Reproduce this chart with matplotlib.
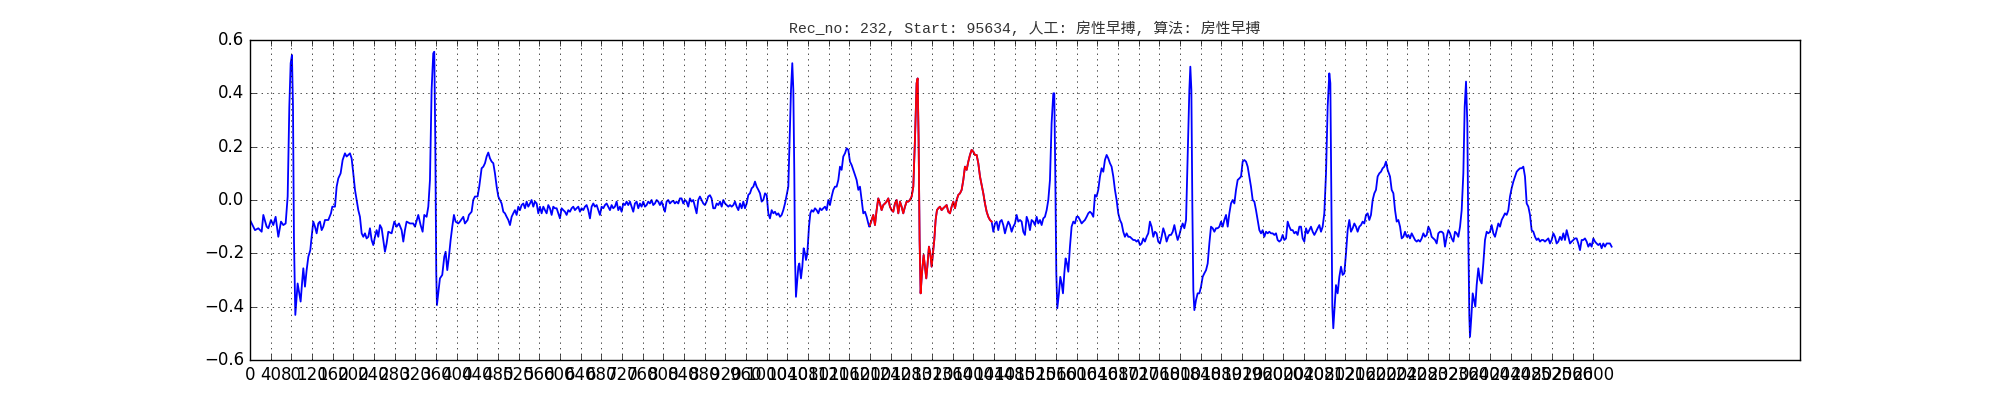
import matplotlib
matplotlib.use('Agg')
import matplotlib.pyplot as plt
import numpy as np

TITLE = "Rec_no: 232, Start: 95634, 人工: 房性早搏, 算法: 房性早搏"
X_TICKS = list(range(0, 2601, 40))
Y_TICKS = [-0.6, -0.4, -0.2, 0.0, 0.2, 0.4, 0.6]
RED_FROM = 1199.0
RED_TO = 1436.0

# beats 1-2 (sample index, amplitude)
seg_a = [(0, -0.075), (9.7, -0.113), (16.1, -0.106), (22.6, -0.119), (25.8, -0.056), (32.2, -0.1),
         (35.5, -0.106), (40.6, -0.075), (45.1, -0.094), (49.6, -0.063), (54.8, -0.138), (60.0, -0.081),
         (64.5, -0.094), (69.0, -0.088), (72.9, 0.013), (76.1, 0.35), (78.7, 0.513), (81.2, 0.544),
         (83.2, 0.35), (85.1, -0.15), (87.7, -0.431), (90.3, -0.363), (92.2, -0.313), (95.4, -0.35),
         (98.0, -0.381), (101.2, -0.3), (103.2, -0.256), (106.4, -0.325), (109.6, -0.263), (112.9, -0.213),
         (116.7, -0.188), (119.3, -0.138), (122.5, -0.081), (125.8, -0.1), (129.0, -0.125), (132.2, -0.088),
         (135.4, -0.081), (138.7, -0.113), (141.9, -0.1), (145.1, -0.075), (151.6, -0.075), (156.7, -0.05),
         (159.3, -0.025), (164.5, -0.025), (167.7, 0.05), (170.9, 0.081), (175.4, 0.1), (179.3, 0.15),
         (183.8, 0.175), (187.0, 0.163), (190.3, 0.169), (193.5, 0.175), (196.7, 0.156), (199.9, 0.1),
         (203.2, 0.038), (206.4, 0.0), (209.6, -0.038), (212.8, -0.063), (216.1, -0.125), (219.3, -0.138),
         (222.5, -0.125), (225.7, -0.144), (229.0, -0.138), (232.2, -0.106), (235.4, -0.15), (238.6, -0.169),
         (241.9, -0.138), (245.1, -0.113), (248.3, -0.138), (251.5, -0.094), (254.8, -0.106), (258.0, -0.15),
         (261.2, -0.194), (264.4, -0.163), (267.7, -0.119), (274.1, -0.125), (279.3, -0.081), (283.8, -0.1),
         (288.3, -0.088), (293.5, -0.113), (296.7, -0.156), (299.9, -0.113), (303.1, -0.081), (309.6, -0.088),
         (316.0, -0.088), (319.3, -0.1), (325.7, -0.056), (330.2, -0.094), (334.1, -0.119), (337.3, -0.056),
         (341.8, -0.063), (345.1, -0.025), (348.3, 0.075), (351.5, 0.413), (354.7, 0.55), (356.7, 0.556),
         (358.6, 0.225), (360.5, -0.275), (361.8, -0.394), (364.4, -0.35), (367.6, -0.294), (372.1, -0.281),
         (376.0, -0.213), (378.6, -0.194), (381.8, -0.263), (385.0, -0.213), (388.3, -0.15), (391.5, -0.1),
         (394.7, -0.056), (397.9, -0.081), (403.1, -0.088), (406.3, -0.081), (412.8, -0.063), (416.0, -0.088),
         (421.2, -0.075), (423.7, -0.056), (428.9, -0.044), (432.1, 0.0), (435.4, 0.013), (440.5, 0.013),
         (443.7, 0.05), (448.3, 0.119)]

# T wave of beat 2 and long baseline
seg_b = [(451.6, 0.125), (454.8, 0.138), (458.0, 0.163), (461.2, 0.178), (464.5, 0.156), (467.7, 0.144),
         (470.9, 0.138), (474.1, 0.1), (477.4, 0.05), (480.6, 0.013), (483.8, 0.0), (487.0, -0.013),
         (490.3, -0.044), (493.5, -0.05), (496.7, -0.063), (500.0, -0.075), (503.2, -0.094), (506.4, -0.063),
         (509.6, -0.05), (512.8, -0.038), (516.0, -0.056), (519.3, -0.025), (522.5, -0.038), (525.7, -0.019),
         (529.0, -0.013), (532.2, -0.031), (535.4, -0.006), (538.6, -0.025), (541.9, -0.013), (545.0, 0.0),
         (548.3, -0.025), (551.5, -0.006), (554.8, -0.013), (558.0, -0.05), (561.2, -0.025), (564.4, -0.05),
         (567.7, -0.025), (570.9, -0.038), (574.1, -0.05), (577.3, -0.019), (580.5, -0.031), (583.8, -0.056),
         (587.0, -0.025), (590.2, -0.031), (593.5, -0.031), (596.7, -0.05), (599.9, -0.069), (603.1, -0.031),
         (606.4, -0.038), (609.6, -0.044), (612.8, -0.056), (616.0, -0.038), (619.3, -0.044), (622.5, -0.031),
         (625.7, -0.025), (628.9, -0.038), (632.2, -0.031), (635.4, -0.025), (638.6, -0.044), (641.8, -0.031),
         (645.1, -0.038), (648.3, -0.025), (651.5, -0.019), (654.7, -0.038), (658.0, -0.069), (661.2, -0.025),
         (664.4, -0.013), (667.6, -0.025), (670.9, -0.019), (674.1, -0.038), (677.3, -0.056), (680.5, -0.025),
         (683.8, -0.031), (687.0, -0.019), (690.2, -0.013), (693.4, -0.025), (696.7, -0.038), (699.9, -0.019),
         (703.1, -0.031), (706.3, -0.025), (709.6, -0.006), (712.8, -0.038), (716.0, -0.025), (719.2, -0.044),
         (722.5, -0.013), (725.7, -0.019), (728.9, -0.006), (732.1, -0.019), (735.4, -0.006), (738.6, -0.025),
         (741.8, -0.044), (745.0, -0.013), (748.3, -0.006), (751.5, -0.031), (754.7, -0.013), (757.9, -0.025),
         (761.2, -0.006), (764.4, -0.025), (767.6, -0.019), (770.8, -0.006), (774.0, -0.013), (777.3, 0.0),
         (780.5, -0.019), (783.7, -0.013), (787.0, 0.0), (790.2, -0.006), (793.4, -0.019), (796.6, -0.006),
         (799.9, -0.025), (803.1, -0.044), (806.3, -0.006), (809.5, 0.0), (812.8, -0.013), (816.0, -0.006),
         (819.2, -0.003), (822.4, -0.013), (825.7, -0.006), (828.9, -0.013), (832.1, 0.006), (835.3, 0.006),
         (838.6, -0.013), (841.8, 0.0), (845.0, -0.006), (848.2, -0.025), (851.5, 0.006), (854.7, -0.006),
         (857.9, 0.0), (861.1, -0.025), (864.4, -0.05), (867.6, 0.0), (870.8, 0.013), (874.0, 0.0),
         (877.3, -0.013), (880.5, -0.019), (883.7, -0.006), (886.9, 0.013), (890.2, 0.018), (893.4, 0.006),
         (896.6, -0.031)]

# beat 3 and premature beat 4
seg_c = [(900.0, -0.031), (903.2, -0.013), (906.5, -0.019), (909.7, -0.006), (912.9, -0.025), (916.1, 0.0),
         (919.4, -0.013), (922.6, -0.019), (925.8, -0.025), (929.0, -0.019), (932.3, -0.025), (935.5, -0.019),
         (938.7, -0.006), (941.9, -0.025), (945.2, -0.038), (948.4, -0.013), (951.6, -0.031), (954.8, -0.006),
         (958.0, -0.031), (961.3, -0.013), (964.5, 0.019), (967.7, 0.025), (971.0, 0.044), (974.2, 0.05),
         (977.4, 0.069), (980.6, 0.05), (983.9, 0.038), (987.1, 0.025), (990.3, -0.006), (993.5, 0.0),
         (996.8, 0.025), (1000.0, 0.019), (1003.2, -0.05), (1006.4, -0.069), (1009.7, -0.038), (1012.9, -0.05),
         (1016.1, -0.044), (1019.3, -0.056), (1022.6, -0.05), (1025.8, -0.063), (1029.0, -0.056), (1032.2, -0.038),
         (1035.5, -0.013), (1038.7, 0.019), (1041.9, 0.05), (1044.5, 0.225), (1047.1, 0.413), (1049.6, 0.513),
         (1051.6, 0.413), (1053.5, 0.1), (1054.8, -0.213), (1056.7, -0.363), (1058.7, -0.313), (1061.3, -0.25),
         (1063.2, -0.238), (1066.4, -0.294), (1069.0, -0.25), (1071.6, -0.181), (1074.2, -0.2), (1076.1, -0.225),
         (1078.7, -0.2), (1081.9, -0.1), (1084.5, -0.05), (1087.1, -0.038), (1090.3, -0.044), (1093.5, -0.031),
         (1096.7, -0.038), (1100.0, -0.05), (1103.2, -0.031), (1106.4, -0.038), (1109.6, -0.031), (1112.9, -0.025),
         (1116.1, -0.038), (1119.3, 0.0), (1122.5, -0.019), (1125.8, 0.013), (1129.0, 0.038), (1132.2, 0.05),
         (1135.4, 0.05), (1138.7, 0.075), (1141.9, 0.125), (1145.1, 0.113), (1148.3, 0.163), (1151.6, 0.175),
         (1154.8, 0.194), (1158.0, 0.188), (1161.2, 0.144), (1164.5, 0.131), (1167.7, 0.113), (1170.9, 0.094),
         (1174.1, 0.075), (1177.4, 0.038), (1180.6, 0.05), (1183.8, 0.0), (1187.0, -0.05), (1190.3, -0.044),
         (1193.5, -0.063), (1196.7, -0.088), (1198.6, -0.1), (1199.9, -0.094), (1203.2, -0.075), (1206.4, -0.056),
         (1209.6, -0.094), (1212.8, -0.038), (1216.0, 0.006), (1219.3, -0.013), (1222.5, -0.038), (1225.7, -0.019),
         (1229.0, -0.013), (1232.2, -0.006), (1235.4, 0.006), (1238.6, -0.025), (1241.9, -0.038), (1245.0, -0.044),
         (1248.3, -0.013), (1251.5, 0.0), (1254.8, -0.05), (1258.0, -0.006), (1261.2, -0.025), (1264.4, -0.05),
         (1267.7, -0.025), (1270.9, -0.006), (1274.1, -0.006), (1277.3, 0.0), (1280.6, 0.013), (1283.8, 0.05),
         (1287.0, 0.225), (1290.2, 0.438), (1292.2, 0.456), (1294.1, 0.225), (1296.0, -0.15), (1298.0, -0.35),
         (1300.5, -0.275), (1303.8, -0.206), (1306.4, -0.25), (1308.9, -0.294), (1311.5, -0.238), (1314.1, -0.175),
         (1316.7, -0.2), (1319.3, -0.25), (1321.8, -0.2), (1324.4, -0.15), (1327.0, -0.075), (1329.6, -0.038),
         (1332.2, -0.031), (1335.4, -0.025), (1338.6, -0.038), (1341.8, -0.031), (1345.1, -0.025), (1348.3, -0.019),
         (1351.5, -0.044)]

# T wave of beat 4 and beat 5
seg_d = [(1354.8, -0.05), (1358.0, -0.025), (1361.3, -0.006), (1364.5, -0.031), (1367.7, 0.0), (1370.9, 0.019),
         (1374.2, 0.025), (1377.4, 0.038), (1380.6, 0.075), (1383.8, 0.125), (1387.1, 0.113), (1390.3, 0.144),
         (1393.5, 0.169), (1396.7, 0.188), (1400.0, 0.181), (1403.2, 0.169), (1406.4, 0.169), (1409.6, 0.138),
         (1412.9, 0.088), (1416.1, 0.056), (1419.3, 0.025), (1422.5, -0.013), (1425.8, -0.044), (1429.0, -0.063),
         (1432.2, -0.075), (1435.4, -0.081), (1438.7, -0.119), (1441.9, -0.088), (1445.1, -0.081), (1448.3, -0.113),
         (1451.6, -0.081), (1454.8, -0.075), (1458.0, -0.094), (1461.2, -0.125), (1464.5, -0.1), (1467.7, -0.081),
         (1470.9, -0.094), (1474.1, -0.119), (1477.4, -0.1), (1480.6, -0.088), (1483.8, -0.056), (1487.0, -0.081),
         (1490.3, -0.075), (1493.5, -0.081), (1496.7, -0.119), (1499.9, -0.131), (1503.2, -0.063), (1506.4, -0.081),
         (1509.6, -0.113), (1512.8, -0.075), (1516.1, -0.081), (1519.3, -0.094), (1522.5, -0.063), (1525.7, -0.088),
         (1529.0, -0.075), (1532.2, -0.094), (1535.4, -0.069), (1538.6, -0.063), (1541.9, -0.038), (1545.1, 0.0),
         (1548.3, 0.075), (1551.5, 0.288), (1554.8, 0.4), (1556.7, 0.4), (1558.6, 0.1), (1560.6, -0.275),
         (1562.5, -0.406), (1565.7, -0.35), (1568.3, -0.288), (1570.9, -0.313), (1573.5, -0.35), (1576.1, -0.275),
         (1578.6, -0.219), (1581.2, -0.238), (1583.8, -0.269), (1587.0, -0.175), (1590.2, -0.1), (1593.5, -0.081),
         (1596.7, -0.088), (1599.9, -0.063), (1603.1, -0.063), (1606.4, -0.075), (1609.6, -0.088), (1612.8, -0.081),
         (1616.0, -0.075), (1619.3, -0.063), (1622.5, -0.05), (1625.7, -0.044), (1628.9, -0.05), (1632.2, -0.063),
         (1635.4, 0.019), (1638.6, 0.013), (1641.8, 0.038), (1645.1, 0.088), (1648.3, 0.119), (1651.5, 0.106),
         (1654.7, 0.15), (1658.0, 0.169), (1661.2, 0.156), (1664.4, 0.138), (1667.6, 0.125), (1670.9, 0.088),
         (1674.1, 0.038), (1677.3, 0.0), (1680.5, -0.05), (1683.8, -0.075), (1687.0, -0.088), (1690.2, -0.119),
         (1693.4, -0.138), (1696.7, -0.125), (1699.9, -0.138), (1703.1, -0.138), (1706.3, -0.144), (1709.6, -0.15),
         (1712.8, -0.15), (1716.0, -0.156), (1719.2, -0.15), (1722.5, -0.169), (1725.7, -0.163), (1728.9, -0.144),
         (1732.1, -0.156), (1735.4, -0.138), (1738.6, -0.125), (1741.8, -0.081), (1745.0, -0.1), (1748.3, -0.138),
         (1751.5, -0.119), (1754.7, -0.125), (1757.9, -0.156), (1761.2, -0.163), (1764.4, -0.138), (1767.6, -0.106),
         (1770.8, -0.125), (1774.1, -0.156), (1777.3, -0.138)]

# beats 6-7
seg_e = [(1779.4, -0.131), (1782.6, -0.131), (1785.9, -0.119), (1789.1, -0.094), (1792.3, -0.125), (1795.5, -0.15),
         (1798.8, -0.131), (1802.0, -0.106), (1805.2, -0.088), (1808.4, -0.106), (1811.7, -0.075), (1814.9, 0.163),
         (1818.1, 0.413), (1820.0, 0.5), (1822.0, 0.413), (1823.9, -0.025), (1825.8, -0.338), (1827.8, -0.413),
         (1831.0, -0.375), (1834.2, -0.35), (1837.5, -0.35), (1840.7, -0.325), (1843.9, -0.288), (1847.1, -0.275),
         (1850.4, -0.263), (1853.6, -0.238), (1856.8, -0.163), (1860.0, -0.1), (1863.3, -0.106), (1866.5, -0.119),
         (1869.7, -0.106), (1872.9, -0.106), (1876.2, -0.1), (1879.4, -0.081), (1882.6, -0.1), (1885.8, -0.075),
         (1889.1, -0.056), (1892.3, -0.1), (1895.5, -0.05), (1898.7, -0.013), (1902.0, 0.0), (1905.2, -0.013),
         (1908.4, 0.038), (1911.6, 0.075), (1914.9, 0.081), (1918.1, 0.088), (1921.3, 0.144), (1924.5, 0.15),
         (1927.8, 0.144), (1931.0, 0.125), (1934.2, 0.088), (1937.4, 0.05), (1940.7, 0.0), (1943.9, -0.006),
         (1947.1, -0.038), (1950.3, -0.075), (1953.6, -0.113), (1956.8, -0.125), (1960.0, -0.113), (1963.2, -0.138),
         (1966.5, -0.119), (1969.7, -0.125), (1972.9, -0.119), (1976.1, -0.125), (1979.4, -0.125), (1982.6, -0.131),
         (1985.8, -0.125), (1989.0, -0.15), (1992.3, -0.156), (1995.5, -0.15), (1998.7, -0.131), (2001.9, -0.15),
         (2005.2, -0.144), (2008.4, -0.081), (2011.6, -0.1), (2014.8, -0.113), (2018.1, -0.113), (2021.3, -0.125),
         (2024.5, -0.119), (2027.7, -0.131), (2031.0, -0.1), (2034.2, -0.1), (2037.4, -0.144), (2040.6, -0.156),
         (2043.9, -0.106), (2047.1, -0.125), (2050.3, -0.113), (2053.5, -0.1), (2056.8, -0.119), (2060.0, -0.131),
         (2063.2, -0.119), (2066.4, -0.106), (2069.7, -0.094), (2072.9, -0.119), (2076.1, -0.1), (2079.3, -0.05),
         (2082.6, 0.1), (2085.8, 0.35), (2089.0, 0.475), (2091.0, 0.438), (2092.9, 0.038), (2094.8, -0.4),
         (2096.7, -0.481), (2099.3, -0.4), (2101.9, -0.319), (2105.1, -0.35), (2108.4, -0.288), (2111.6, -0.25),
         (2114.8, -0.281), (2118.0, -0.275), (2121.3, -0.2), (2124.5, -0.113), (2127.7, -0.075), (2130.9, -0.119),
         (2134.2, -0.106), (2137.4, -0.088), (2140.6, -0.1), (2143.8, -0.119), (2147.1, -0.1), (2150.3, -0.094),
         (2153.5, -0.081), (2156.7, -0.088), (2160.0, -0.056), (2163.2, -0.05), (2166.4, -0.075), (2169.6, -0.056),
         (2172.9, 0.0), (2176.1, 0.025), (2179.3, 0.038), (2182.5, 0.088), (2185.8, 0.1), (2189.0, 0.106),
         (2192.2, 0.119), (2195.4, 0.125), (2198.7, 0.144), (2201.9, 0.113)]

# beat 8 and tail
seg_f = [(2206.5, 0.088), (2209.7, 0.038), (2213.0, 0.025), (2216.2, -0.038), (2219.4, -0.081), (2222.6, -0.075),
         (2225.9, -0.1), (2229.1, -0.144), (2232.3, -0.138), (2235.5, -0.119), (2238.8, -0.138), (2242.0, -0.131),
         (2245.2, -0.144), (2248.4, -0.125), (2251.7, -0.138), (2254.9, -0.15), (2258.1, -0.156), (2261.3, -0.15),
         (2264.6, -0.156), (2267.8, -0.144), (2271.0, -0.125), (2274.2, -0.138), (2277.5, -0.131), (2280.7, -0.1),
         (2283.9, -0.113), (2287.1, -0.138), (2290.4, -0.144), (2293.6, -0.15), (2296.8, -0.163), (2300.0, -0.125),
         (2303.3, -0.119), (2306.5, -0.119), (2309.7, -0.125), (2312.9, -0.175), (2316.2, -0.138), (2319.4, -0.113),
         (2322.6, -0.125), (2325.8, -0.144), (2329.1, -0.156), (2332.3, -0.119), (2335.5, -0.125), (2338.7, -0.138),
         (2342.0, -0.1), (2345.2, -0.038), (2348.4, 0.1), (2351.0, 0.35), (2353.6, 0.444), (2356.1, 0.288),
         (2358.1, -0.15), (2360.0, -0.438), (2361.3, -0.513), (2363.9, -0.438), (2366.5, -0.35), (2369.1, -0.375),
         (2371.6, -0.4), (2374.2, -0.319), (2377.4, -0.256), (2380.7, -0.3), (2383.9, -0.313), (2387.1, -0.238),
         (2390.3, -0.15), (2393.6, -0.119), (2396.8, -0.125), (2400.0, -0.119), (2403.2, -0.094), (2406.5, -0.125),
         (2409.7, -0.138), (2412.9, -0.113), (2416.1, -0.088), (2419.4, -0.1), (2422.6, -0.075), (2425.8, -0.063),
         (2429.0, -0.05), (2432.3, -0.056), (2435.5, -0.038), (2438.7, 0.013), (2441.9, 0.044), (2445.2, 0.069),
         (2448.4, 0.088), (2451.6, 0.106), (2454.8, 0.113), (2458.1, 0.119), (2461.3, 0.119), (2464.5, 0.125),
         (2467.7, 0.088), (2471.0, -0.013), (2474.2, -0.025), (2477.4, -0.056), (2480.6, -0.113), (2483.9, -0.119),
         (2487.1, -0.138), (2490.3, -0.15), (2493.5, -0.144), (2496.8, -0.156), (2500.0, -0.15), (2503.2, -0.15),
         (2506.4, -0.156), (2509.7, -0.15), (2512.9, -0.144), (2516.1, -0.163), (2519.3, -0.15), (2522.6, -0.125),
         (2525.8, -0.138), (2529.0, -0.163), (2532.2, -0.156), (2535.5, -0.138), (2538.7, -0.15), (2541.9, -0.125),
         (2545.1, -0.15), (2548.4, -0.113), (2551.6, -0.138), (2554.8, -0.163), (2558.0, -0.156), (2561.3, -0.15),
         (2564.5, -0.144), (2567.7, -0.144), (2570.9, -0.163), (2574.2, -0.188), (2577.4, -0.15), (2580.6, -0.15),
         (2583.8, -0.144), (2587.1, -0.156), (2590.3, -0.175), (2593.5, -0.163), (2596.7, -0.175), (2600.0, -0.144),
         (2603.2, -0.156), (2606.4, -0.163), (2609.6, -0.169), (2612.9, -0.163), (2616.1, -0.181), (2619.3, -0.163),
         (2622.5, -0.175), (2625.8, -0.163), (2629.0, -0.163), (2632.2, -0.163), (2635.4, -0.175)]

plt.style.use('classic')

segments = [seg_a, seg_b, seg_c, seg_d, seg_e, seg_f]
pts = np.array([p for seg in segments for p in seg], dtype=float)
xs, ys = pts[:, 0], pts[:, 1]

fig = plt.figure(figsize=(20, 4), dpi=100, facecolor='white')
ax = fig.add_subplot(111)
ax.plot(xs, ys, color='b', linewidth=1.3)
mask = (xs >= RED_FROM) & (xs <= RED_TO)
ax.plot(xs[mask], ys[mask], color='r', linewidth=1.3)

ax.set_xlim(0, 3000)
ax.set_ylim(-0.6, 0.6)
ax.set_xticks(X_TICKS)
ax.set_yticks(Y_TICKS)
ax.grid(True)
ax.set_title(TITLE, fontsize=10.7, color='#333333',
             family=['Liberation Mono', 'Noto Sans CJK SC'])

fig.savefig('out.png', dpi=100, facecolor='white')
